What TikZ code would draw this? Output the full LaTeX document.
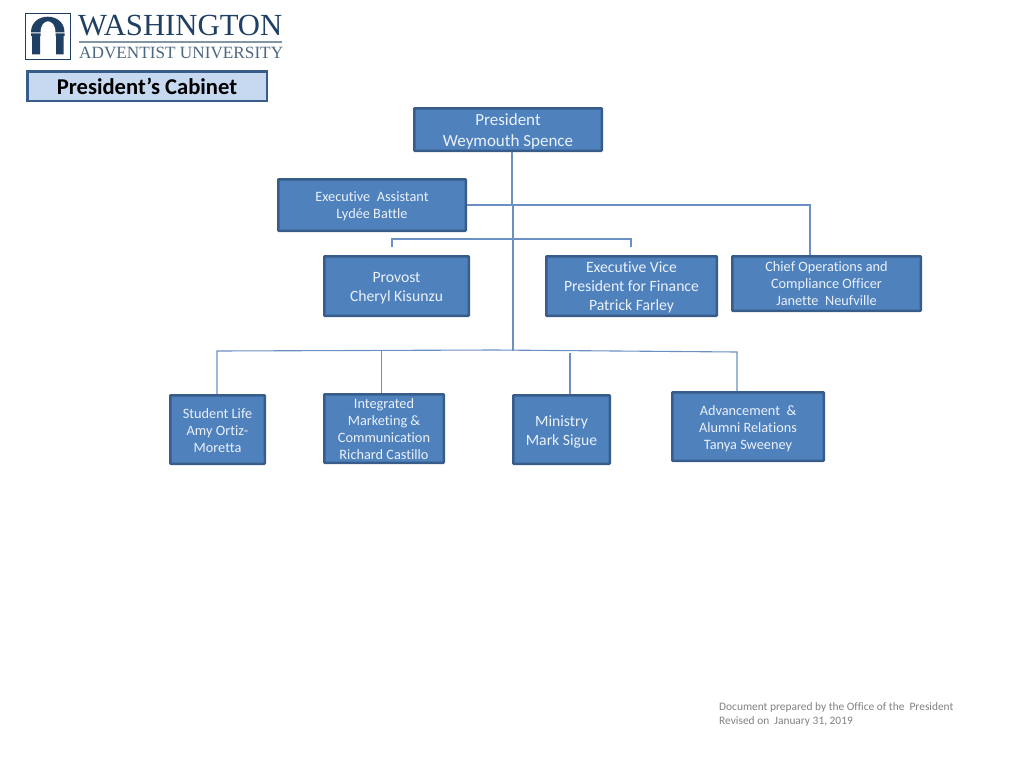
\documentclass[tikz,border=0pt]{standalone}
\usepackage{fontspec}
\setmainfont[Ligatures=NoCommon]{Carlito}
\newfontfamily\logofont{Liberation Serif}
\definecolor{boxfill}{HTML}{4F81BD}
\definecolor{boxline}{HTML}{385D8A}
\definecolor{conn}{HTML}{6A90C4}
\definecolor{boxtext}{HTML}{EAF1FA}
\definecolor{titlefill}{HTML}{C6D9F1}
\definecolor{navy}{HTML}{1F3F63}
\definecolor{logogray}{HTML}{4D6780}
\tikzset{
 orgbox/.style={draw=boxline,fill=boxfill,line width=2.5pt,rounded corners=0.6pt,inner sep=0pt},
 orgtext/.style={inner sep=0pt,align=center,text=boxtext},
 bigtext/.style={orgtext,yshift=-1.8pt,font=\fontsize{17}{21}\selectfont},
 midtext/.style={orgtext,yshift=-1.8pt,font=\fontsize{15.7}{19}\selectfont},
 smalltext/.style={orgtext,yshift=-0.7pt,font=\fontsize{14.3}{17}\selectfont},
 link/.style={draw=conn,line width=1.1pt},
 footer/.style={font=\fontsize{11.4}{14}\selectfont,text=gray,align=left,anchor=north west,inner sep=0pt},
}
\newcommand{\orgnode}[7]{% name, style, x1, y1, x2, y2, text
 \node[orgbox,minimum width=#5pt-#3pt-2.5pt,minimum height=#6pt-#4pt-2.5pt] (#1) at ({(#3+#5)/2},{(#4+#6)/2}) {};
 \node[#2] (#1-text) at (#1.center) {#7};}
\begin{document}
\begin{tikzpicture}[x=1pt,y=-1pt]
\useasboundingbox (0,0) rectangle (1024,768);
% logo
\draw[navy,line width=1.4pt] (25.7,13.7) rectangle (70.3,59.3);
\fill[navy] (31,33.5) -- (40.5,33.5) -- (40.5,36) -- (40,36) -- (40,54.5) -- (32,54.5) -- (32,36) -- (31,36) -- cycle;
\fill[navy] (55.5,33.5) -- (64.5,33.5) -- (64.5,36) -- (63.5,36) -- (63.5,54.5) -- (56,54.5) -- (56,36) -- (55.5,36) -- cycle;
\fill[navy] (31,32.3) .. controls (31,11.5) and (64.5,11.5) .. (64.5,32.3) -- (55.5,32.3) .. controls (55.5,17.5) and (40.5,17.5) .. (40.5,32.3) -- cycle;
\node[inner sep=0pt,anchor=base west,text=navy,font=\logofont\fontsize{30.7}{31}\selectfont] (logoa) at (78,36) {WASHINGTON};
\fill[logogray!70] (79,41) rectangle (282,43);
\node[inner sep=0pt,anchor=base west,text=logogray,font=\logofont\fontsize{17.2}{17}\selectfont] (logob) at (79,58.5) {ADVENTIST UNIVERSITY};
% title
\node[draw=boxline,fill=titlefill,line width=2.5pt,inner sep=0pt,minimum width=239.5pt,minimum height=29.5pt] (title) at (147,86) {};
\node[inner sep=0pt,font=\bfseries\fontsize{22.6}{24}\selectfont,text=black] (title-text) at (title.center) {President’s Cabinet};
% boxes
\orgnode{pres}{bigtext}{413}{107}{603}{152}{President\\Weymouth Spence}
\orgnode{exec}{smalltext,yshift=-1pt}{277}{178}{467}{232}{Executive\ \ Assistant\\Lydée Battle}
\orgnode{prov}{midtext}{323}{255}{470}{317}{Provost\\Cheryl Kisunzu}
\orgnode{evp}{midtext}{545}{255}{718}{317}{Executive Vice\\President for Finance\\Patrick Farley}
\orgnode{chief}{smalltext,yshift=0.5pt}{731}{255}{922}{312}{Chief Operations and\\Compliance Officer\\Janette\ \ Neufville}
\orgnode{stud}{smalltext}{169}{394}{266}{465}{Student Life\\Amy Ortiz-\\Moretta}
\orgnode{integ}{smalltext}{323}{393}{445}{464}{Integrated\\Marketing \&\\Communication\\Richard Castillo}
\orgnode{minis}{midtext,yshift=-1pt}{512}{394}{611}{465}{Ministry\\Mark Sigue}
\orgnode{adv}{smalltext,yshift=-1pt}{671}{391}{825}{462}{Advancement\ \ \&\\Alumni Relations\\Tanya Sweeney}
% footer
\node[footer] (foot) at (719,702) {Document prepared by the Office of the\ \ President\\Revised on\ \ January 31, 2019};
% junctions
\coordinate (ja) at (512,205);
\coordinate (jb) at (513,205);
\coordinate (jc) at (513,351);
\coordinate (jr) at (810,205);
\coordinate (jml) at (392,239);
\coordinate (jmr) at (631,239);
\coordinate (jmlt) at (392,247);
\coordinate (jmrt) at (631,247);
\coordinate (jbl) at (217,351);
\coordinate (jbi) at (381.5,350);
\coordinate (jbc) at (495,350);
\coordinate (jbm) at (570,351);
\coordinate (jbmt) at (570,353);
\coordinate (jbr) at (737,352);
% connectors
\draw[link] (pres.south -| ja) -- (ja);
\draw[link] (exec.east |- ja) -- (jr) -- (chief.north -| jr);
\draw[link] (jb) -- (jc);
\draw[link] (jmlt) -- (jml) -- (jmr) -- (jmrt);
\draw[link] (stud.north -| jbl) -- (jbl) -- (jbc) -- (jbr) -- (adv.north -| jbr);
\draw[link] (integ.north -| jbi) -- (jbi);
\draw[link] (minis.north -| jbm) -- (jbmt);
\end{tikzpicture}
\end{document}
